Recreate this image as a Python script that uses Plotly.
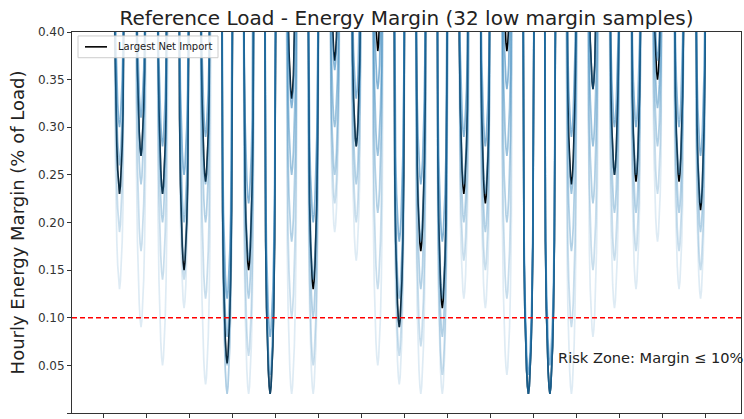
import plotly.graph_objects as go

# ---- data ----
# one dip per day; minima of the hourly margin on each day (fraction of load)
black_min = [0.23, 0.27, 0.23, 0.15, 0.243, 0.052, 0.15, 0.02, 0.33, 0.13,
             0.37, 0.28, 0.38, 0.09, 0.17, 0.11, 0.23, 0.22, 0.38, 0.02,
             0.02, 0.24, 0.34, 0.25, 0.243, 0.35, 0.243, 0.213]
samp_lo = [0.13, 0.09, 0.05, 0.11, 0.03, 0.02, 0.02, 0.02, 0.02, 0.02,
           0.19, 0.16, 0.05, 0.03, 0.02, 0.02, 0.12, 0.11, 0.04, 0.02,
           0.02, 0.02, 0.08, 0.11, 0.13, 0.18, 0.13, 0.12]
samp_q1 = [0.19, 0.17, 0.14, 0.14, 0.12, 0.02, 0.06, 0.02, 0.10, 0.05,
           0.22, 0.20, 0.13, 0.06, 0.07, 0.04, 0.16, 0.15, 0.12, 0.02,
           0.02, 0.09, 0.15, 0.16, 0.17, 0.23, 0.17, 0.15]
samp_q2 = [0.23, 0.24, 0.20, 0.16, 0.20, 0.05, 0.12, 0.02, 0.18, 0.10,
           0.25, 0.24, 0.21, 0.09, 0.13, 0.08, 0.20, 0.19, 0.20, 0.02,
           0.02, 0.17, 0.22, 0.21, 0.21, 0.28, 0.21, 0.19]
samp_q3 = [0.26, 0.27, 0.23, 0.20, 0.24, 0.08, 0.16, 0.04, 0.25, 0.14,
           0.30, 0.28, 0.27, 0.12, 0.18, 0.12, 0.24, 0.23, 0.27, 0.02,
           0.02, 0.23, 0.28, 0.25, 0.25, 0.32, 0.25, 0.22]
samp_hi = [0.30, 0.31, 0.28, 0.25, 0.29, 0.12, 0.22, 0.08, 0.32, 0.20,
           0.36, 0.33, 0.34, 0.18, 0.24, 0.18, 0.29, 0.28, 0.34, 0.04,
           0.05, 0.29, 0.34, 0.30, 0.30, 0.37, 0.30, 0.27]

# hourly rise of the margin above the daily minimum, hours -12..+11 around the 18:00 peak
dip_offsets = list(range(-12, 12))
dip_rise = [1.6, 1.6, 1.6, 1.6, 1.6, 0.8, 0.36, 0.16, 0.09, 0.05, 0.025, 0.008,
            0.0, 0.008, 0.025, 0.05, 0.09, 0.16, 0.36, 0.8, 1.6, 1.6, 1.6, 1.6]
peak_hour = 18

y_ticks = [0.00, 0.05, 0.10, 0.15, 0.20, 0.25, 0.30, 0.35, 0.40]
x_ticks = list(range(0, 721, 48))
risk_level = 0.10

# plot-area pixel geometry (used only to place the hand-drawn legend box)
PL, PR, PT, PB = 72, 741, 32, 417


def px_x(p):
    return (p - PL) / (PR - PL)


def px_y(p):
    return (PB - p) / (PB - PT)


def series(mins):
    xs, ys = [], []
    for k, m in enumerate(mins):
        for off, r in zip(dip_offsets, dip_rise):
            xs.append(24 * k + peak_hour + off)
            ys.append(m + r)
    return xs, ys


fig = go.Figure()
xs, ys = series(black_min)
fig.add_trace(go.Scatter(x=xs, y=ys, mode="lines", name="Largest Net Import",
                         showlegend=False, line=dict(color="black", width=1.6)))
blue = "31,119,180"
for arr, a in [(samp_lo, 0.15), (samp_q1, 0.25), (samp_q2, 0.35),
               (samp_q3, 0.45), (samp_hi, 0.55)]:
    xs, ys = series(arr)
    fig.add_trace(go.Scatter(x=xs, y=ys, mode="lines", showlegend=False,
                             line=dict(color=f"rgba({blue},{a})", width=1.7),
                             hoverinfo="skip"))

fig.add_shape(type="line", xref="paper", x0=0, x1=1, yref="y",
              y0=risk_level, y1=risk_level,
              line=dict(color="red", width=1.5, dash="5px,3px"))
fig.add_annotation(xref="paper", x=px_x(556), yref="y", y=0.058,
                   text="Risk Zone: Margin ≤ 10%", showarrow=False,
                   xanchor="left", yanchor="middle",
                   font=dict(size=14.6, color="#222"))

# legend box (matplotlib style)
fig.add_shape(type="rect", xref="paper", yref="paper",
              x0=px_x(78), x1=px_x(218), y0=px_y(36), y1=px_y(58),
              line=dict(color="#cccccc", width=1),
              fillcolor="rgba(255,255,255,0.85)", layer="above")
fig.add_shape(type="line", xref="paper", yref="paper",
              x0=px_x(85), x1=px_x(107), y0=px_y(47), y1=px_y(47),
              line=dict(color="black", width=1.6), layer="above")
fig.add_annotation(xref="paper", yref="paper", x=px_x(116), y=px_y(47),
                   text="Largest Net Import", showarrow=False,
                   xanchor="left", yanchor="middle",
                   font=dict(size=10, color="#222"))

axis_common = dict(showgrid=False, zeroline=False, showline=True, mirror=True,
                   linecolor="#333", linewidth=1, ticks="outside", ticklen=4,
                   tickcolor="#333")
fig.update_xaxes(range=[-34.97, 711.1], tickvals=x_ticks, showticklabels=False,
                 **axis_common)
fig.update_yaxes(range=[0, 0.40], tickvals=y_ticks, tickformat=".2f",
                 tickfont=dict(size=12, color="#333"),
                 title=dict(text="Hourly Energy Margin (% of Load)",
                            font=dict(size=18, color="#222"), standoff=8),
                 **axis_common)

fig.update_layout(
    width=744, height=419,
    margin=dict(l=PL, r=744 - PR, t=PT, b=419 - PB),
    plot_bgcolor="white", paper_bgcolor="white",
    showlegend=False,
    font=dict(family="DejaVu Sans", color="#222"),
    title=dict(text="Reference Load - Energy Margin (32 low margin samples)",
               x=0.5463, xanchor="center", y=1 - 18 / 419, yanchor="middle",
               font=dict(size=20, color="#222")),
)

fig.write_html("out.html")
